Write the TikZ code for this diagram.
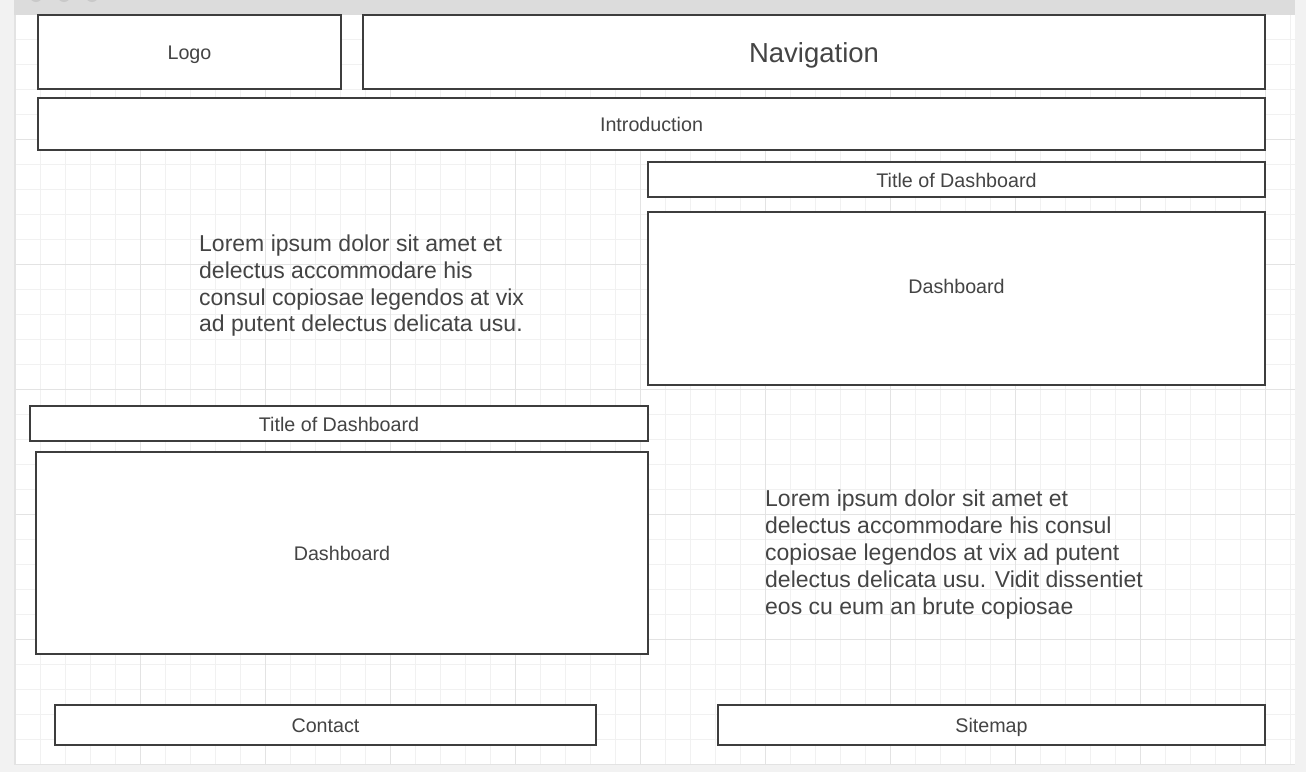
\documentclass[tikz,border=0pt]{standalone}
\usepackage{fontspec}
\setmainfont{Liberation Sans}
\definecolor{pagebg}{HTML}{F2F2F2}
\definecolor{barbg}{HTML}{DCDCDC}
\definecolor{dotc}{HTML}{C9C9C9}
\definecolor{gridminor}{HTML}{F1F1F1}
\definecolor{gridmajor}{HTML}{E3E3E3}
\definecolor{edgec}{HTML}{3D3D3D}
\definecolor{textc}{HTML}{444444}
\tikzset{
  box/.style={draw=edgec, line width=1.2pt, fill=white, rectangle, inner sep=0pt, text=textc,
    font=\fontsize{19.7}{23.6}\selectfont, text height=20pt, text depth=5pt},
  lbl/.style={inner sep=0pt, text=textc, font=\fontsize{19.7}{23.6}\selectfont,
    text height=20pt, text depth=5pt},
  bigtext/.style={font=\fontsize{27.5}{33}\selectfont, text height=27pt, text depth=5.6pt},
  lorem/.style={inner sep=0pt, anchor=base west, text=textc, font=\fontsize{23}{27}\selectfont},
}
\begin{document}
\begin{tikzpicture}[x=1pt,y=-1pt]
\useasboundingbox (0,0) rectangle (1306,772);
\clip (0,0) rectangle (1306,772);
% page background
\fill[pagebg] (0,0) rectangle (1306,772);
% top bar
\fill[barbg] (14.3,0) rectangle (1295,14.6);
\foreach \cx in {36,64,92} \fill[dotc] (\cx,-4.5) circle (6.5);
% canvas
\fill[white] (14.3,14.6) rectangle (1295,764.3);
\foreach \i in {0,...,51} \draw[gridminor, line width=1pt] ({15.7+25*\i},14.6) -- ({15.7+25*\i},764.3);
\foreach \i in {1,...,29} \draw[gridminor, line width=1pt] (14.3,{14.3+25*\i}) -- (1295,{14.3+25*\i});
\foreach \i in {0,...,10} \draw[gridmajor, line width=1pt] ({15.7+125*\i},14.6) -- ({15.7+125*\i},764.3);
\foreach \i in {1,...,5} \draw[gridmajor, line width=1pt] (14.3,{14.3+125*\i}) -- (1295,{14.3+125*\i});
\draw[gridmajor, line width=1pt] (14.3,14.6) -- (14.3,764.3) -- (1295,764.3);
% boxes
\node[box, minimum width=303pt, minimum height=74pt] (logo) at (189.5,52) {Logo};
\node[box, bigtext, minimum width=902pt, minimum height=74pt] (nav) at (814,52) {Navigation};
\node[box, minimum width=1227pt, minimum height=52pt] (intro) at (651.5,124) {Introduction};
\node[box, minimum width=617pt, minimum height=35pt] (titleR) at (956.5,179.5) {Title of Dashboard};
\node[box, minimum width=617pt, minimum height=173pt] (dashR) at (956.5,298.5) {};
\node[lbl] (dashRlbl) at (956.5,286) {Dashboard};
\node[box, minimum width=618pt, minimum height=35pt] (titleL) at (339,423.5) {Title of Dashboard};
\node[box, minimum width=612pt, minimum height=202pt] (dashL) at (342,553) {Dashboard};
\node[box, minimum width=541pt, minimum height=40pt] (contact) at (325.5,725) {Contact};
\node[box, minimum width=547pt, minimum height=40pt] (sitemap) at (991.5,725) {Sitemap};
% lorem texts
\node[lorem] (la1) at (199,251.7) {Lorem ipsum dolor sit amet et};
\node[lorem] (la2) at (199,278.4) {delectus accommodare his};
\node[lorem] (la3) at (199,305.1) {consul copiosae legendos at vix};
\node[lorem] (la4) at (199,331.8) {ad putent delectus delicata usu.};
\node[lorem] (lb1) at (765,506.5) {Lorem ipsum dolor sit amet et};
\node[lorem] (lb2) at (765,533.5) {delectus accommodare his consul};
\node[lorem] (lb3) at (765,560.5) {copiosae legendos at vix ad putent};
\node[lorem] (lb4) at (765,587.5) {delectus delicata usu. Vidit dissentiet};
\node[lorem] (lb5) at (765,614.5) {eos cu eum an brute copiosae};
\end{tikzpicture}
\end{document}
